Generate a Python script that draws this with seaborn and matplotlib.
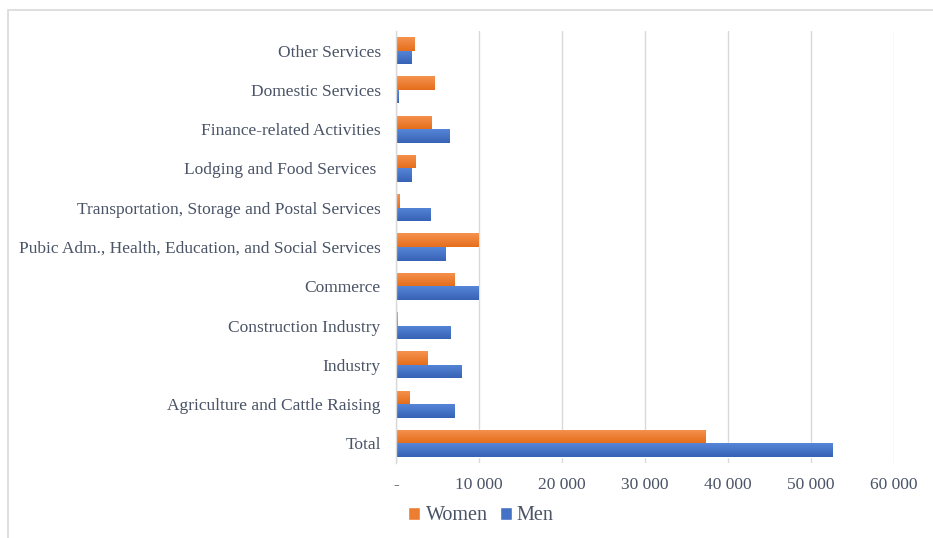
import matplotlib
matplotlib.use("Agg")
import matplotlib.pyplot as plt
from matplotlib.patches import Rectangle
from matplotlib.colors import LinearSegmentedColormap
from matplotlib.ticker import FuncFormatter
import numpy as np
import seaborn as sns
import pandas as pd

# Employment by sector and sex
sectors = [
    "Other Services",
    "Domestic Services",
    "Finance-related Activities",
    "Lodging and Food Services ",
    "Transportation, Storage and Postal Services",
    "Pubic Adm., Health, Education, and Social Services",
    "Commerce",
    "Construction Industry",
    "Industry",
    "Agriculture and Cattle Raising",
    "Total",
]
women = [2200, 4600, 4300, 2400, 400, 9900, 7100, 150, 3750, 1600, 37300]
men = [1900, 300, 6400, 1850, 4100, 6000, 9900, 6550, 7900, 7000, 52600]
series = ["Women", "Men"]
colors = ["#ED7D31", "#4472C4"]
shades = {
    "#ED7D31": ("#F5934F", "#E56E1C"),
    "#4472C4": ("#5686D8", "#3762B5"),
}

df = pd.DataFrame({
    "Sector": sectors * 2,
    "Sex": [series[0]] * len(sectors) + [series[1]] * len(sectors),
    "Value": women + men,
})

sns.set_theme(style="white")
plt.rcParams["font.family"] = ["Liberation Serif", "DejaVu Serif"]
text_color = "#4A5466"
grid_color = "#D9D9D9"

fig = plt.figure(figsize=(9.33, 5.38), dpi=100)
ax = fig.add_axes([396 / 933, 1 - 463 / 538, (894 - 396) / 933, (463 - 31) / 538])

sns.barplot(
    data=df, y="Sector", x="Value", hue="Sex", order=sectors,
    hue_order=series, palette=colors, orient="h", width=0.69,
    saturation=1, ax=ax, legend=True,
)

ax.set_xlim(0, 60000)
ylim = ax.get_ylim()

# Soft vertical gradient on each bar, lighter on top
grad = np.linspace(0, 1, 64).reshape(-1, 1)
for bar in list(ax.patches):
    fc = matplotlib.colors.to_hex(bar.get_facecolor()).upper()
    if fc not in shades:
        continue
    top, bottom = shades[fc]
    cmap = LinearSegmentedColormap.from_list("g", [top, bottom])
    x0, y0 = bar.get_x(), bar.get_y()
    w, h = bar.get_width(), bar.get_height()
    if w <= 0:
        continue
    im = ax.imshow(grad, cmap=cmap, aspect="auto", origin="upper",
                   extent=(x0, x0 + w, y0 + h, y0), zorder=bar.get_zorder() + 0.1,
                   interpolation="bilinear")
    im.set_clip_path(bar)

ax.set_xlim(0, 60000)
ax.set_ylim(ylim)
ax.set_xticks(range(0, 60001, 10000))
ax.xaxis.set_major_formatter(
    FuncFormatter(lambda v, _: "-" if v == 0 else f"{int(v):,}".replace(",", " "))
)
ax.grid(axis="x", color=grid_color, linewidth=1)
ax.set_axisbelow(True)
for s in ["top", "right", "bottom"]:
    ax.spines[s].set_visible(False)
ax.spines["left"].set_color(grid_color)
ax.spines["left"].set_linewidth(1)
ax.set_xlabel("")
ax.set_ylabel("")
ax.tick_params(axis="both", length=0, colors=text_color, labelsize=12.5)
ax.tick_params(axis="y", pad=11)
ax.tick_params(axis="x", pad=10)

handles, labels = ax.get_legend_handles_labels()
ax.legend_.remove()
fig.legend(
    handles, labels, loc="center", bbox_to_anchor=(481 / 933, 1 - 516 / 538),
    ncol=2, frameon=False, fontsize=14.5, labelcolor=text_color,
    handlelength=0.6, handleheight=0.6, handletextpad=0.25, columnspacing=0.6,
)

# Chart frame
fig.patches.append(Rectangle(
    (8 / 933, -0.05), 1.0, 1 - 10 / 538 + 0.05, transform=fig.transFigure,
    fill=False, edgecolor=grid_color, linewidth=1.2,
))

fig.savefig("out.png", dpi=100)
